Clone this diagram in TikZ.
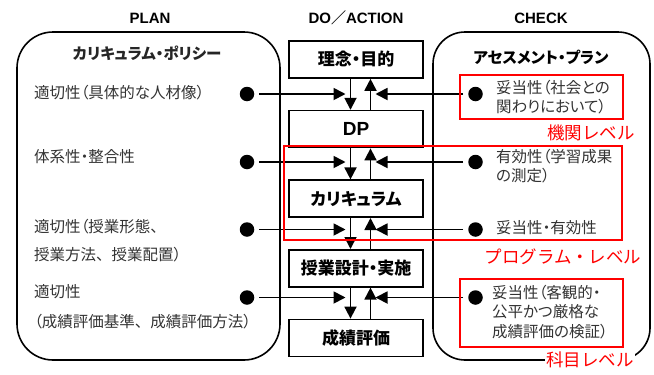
\documentclass[tikz,border=0pt]{standalone}
\usepackage{fontspec}
\setmainfont{Liberation Sans}
\newfontfamily\jp[RawFeature=+palt]{Noto Sans CJK JP}
\newfontfamily\jpm{Noto Sans CJK JP}
\newcommand\ten{、\hspace{.5em}}
\usetikzlibrary{positioning,arrows.meta}

\begin{document}
\begin{tikzpicture}[x=1pt,y=-1pt,node distance=31pt,
  >={Triangle[length=12pt,width=12pt]},
  stage/.style={draw,line width=1.6pt,minimum width=134pt,minimum height=37pt,
    font=\jp\bfseries\fontsize{17}{18}\selectfont},
  head/.style={font=\bfseries\fontsize{15}{18}\selectfont},
  item/.style={anchor=west,inner sep=0pt,align=left,text=black!80,
    font=\jp\fontsize{15.5}{19.5}\selectfont},
  dot/.style={circle,fill,inner sep=0pt,minimum size=14.5pt},
  panel/.style={line width=1.6pt,rounded corners=36pt},
  level/.style={draw=red,line width=1.8pt},
  tag/.style={text=red,font=\jpm\fontsize{17.5}{20}\selectfont}]

  \useasboundingbox (0,0) rectangle (654,375);

  % column titles
  \node[head] (plan)  at (150,18) {PLAN};
  \node[head] (doact) at (356,18) {DO{\jpm ／}ACTION};
  \node[head] (check) at (541,18) {CHECK};

  % plan / check panels
  \draw[panel] (17,32) rectangle (280,360);
  \draw[panel,rounded corners=32pt] (433,32) rectangle (650,360);

  % do / action column
  \node[stage] (goal)  at (356,59.5) {理念・目的};
  \node[stage] (dp)    [below=of goal]  {\normalfont\bfseries\fontsize{19}{20}\selectfont DP};
  \node[stage] (curr)  [below=of dp]    {カリキュラム};
  \node[stage] (class) [below=of curr]  {授業設計・実施};
  \node[stage] (grade) [below=of class] {成績評価};

  \coordinate (dn) at (350.5,0);
  \coordinate (up) at (370.5,0);

  \path[->,line width=1.8pt]
    (goal.south -| dn)  edge (dp.north -| dn)
    (dp.north -| up)    edge (goal.south -| up)
    (dp.south -| dn)    edge (curr.north -| dn)
    (curr.north -| up)  edge (dp.south -| up)
    (curr.south -| dn)  edge (class.north -| dn)
    (class.north -| up) edge (curr.south -| up)
    (class.south -| dn) edge (grade.north -| dn)
    (grade.north -| up) edge (class.south -| up);

  % plan side
  \node[font=\jp\bfseries\fontsize{15.5}{16}\selectfont,text=black!85] (cpol) at (147,53) {カリキュラム・ポリシー};
  \node[item] (pl1)  at (34,93)  {適切性（具体的な人材像）};
  \node[item] (pl2)  at (34,157) {体系性・整合性};
  \node[item] (pl3)  at (34,227) {適切性（授業形態\ten};
  \node[item] (pl3b) at (34,255) {授業方法\ten 授業配置）};
  \node[item] (pl4)  at (34,292) {適切性};
  \node[item] (pl4b) at (34,322) {（成績評価基準\ten 成績評価方法）};

  \node[dot] (pd1) at (247,94)    {};
  \node[dot] (pd2) at (247,162)   {};
  \node[dot] (pd3) at (247,229.5) {};
  \node[dot] (pd4) at (247,297.5) {};

  % check side
  \node[font=\jp\bfseries\fontsize{15.5}{16}\selectfont] (apln) at (541,57) {アセスメント・プラン};
  \node[item] (ck1) at (496,97)  {妥当性（社会との\\関わりにおいて）};
  \node[item] (ck2) at (496,166) {有効性（学習成果\\の測定）};
  \node[item] (ck3) at (496,228) {妥当性・有効性};
  \node[item] (ck4) at (492,312) {妥当性（客観的・\\公平かつ厳格な\\成績評価の検証）};

  \node[dot] (cd1) at (475.5,94)    {};
  \node[dot] (cd2) at (475.5,162)   {};
  \node[dot] (cd3) at (475.5,229.5) {};
  \node[dot] (cd4) at (475.5,297.5) {};

  \path[->,line width=1.8pt,shorten <=5pt,shorten >=5pt]
    (pd1) edge (pd1 -| dn)
    (pd2) edge (pd2 -| dn)
    (pd3) edge (pd3 -| dn)
    (pd4) edge (pd4 -| dn)
    (cd1) edge (cd1 -| up)
    (cd2) edge (cd2 -| up)
    (cd3) edge (cd3 -| up)
    (cd4) edge (cd4 -| up);

  % levels
  \draw[level] (460,75) rectangle (623,119);
  \draw[level] (284,146) rectangle (622,240);
  \draw[level] (460,279) rectangle (623,347);
  \node[tag] (inst) at (591,133) {機関レベル};
  \node[tag] (prog) at (563,257) {プログラム・レベル};
  \node[tag,fill=white,inner sep=1pt] (subj) at (590,360) {科目レベル};
\end{tikzpicture}
\end{document}
